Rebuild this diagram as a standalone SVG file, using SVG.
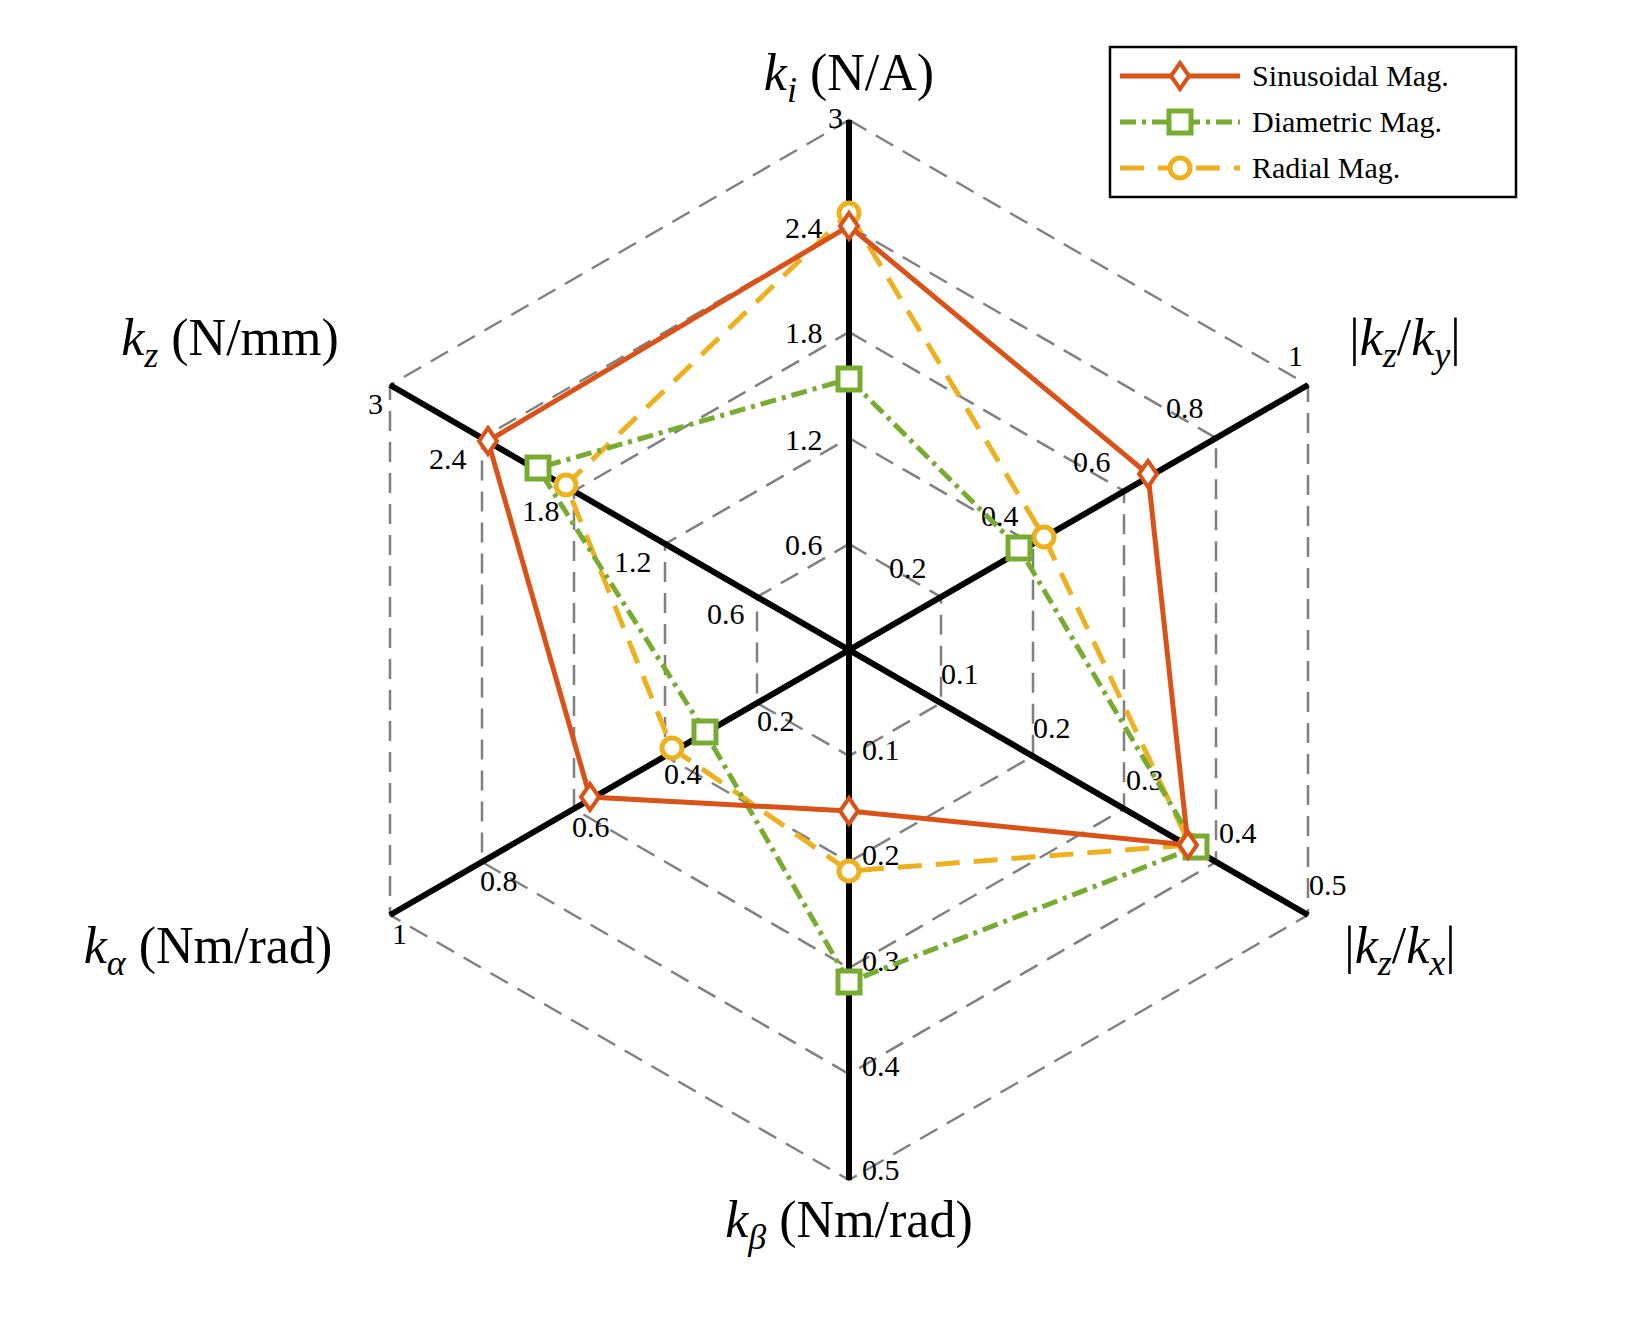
<svg xmlns="http://www.w3.org/2000/svg" width="1627" height="1338" viewBox="0 0 1627 1338">
<style>
.ring{fill:none;stroke:#808080;stroke-width:2.5;stroke-dasharray:20 11}
.ax{stroke:#000;stroke-width:6}
.t{font-family:"Liberation Serif",serif;font-size:30px;fill:#000}
.lab{font-family:"Liberation Serif",serif;font-size:52px;fill:#000}
.s{fill:none;stroke:#D95319;stroke-width:5}
.d{fill:none;stroke:#77AC30;stroke-width:5;stroke-dasharray:16 6 4 6}
.r{fill:none;stroke:#EDB120;stroke-width:5;stroke-dasharray:24 14}
.ms{fill:#fff;stroke:#D95319;stroke-width:4}
.md{fill:#fff;stroke:#77AC30;stroke-width:5}
.mr{fill:#fff;stroke:#EDB120;stroke-width:5}
</style>
<rect width="1627" height="1338" fill="#fff"/>
<g id="grid">
<polygon class="ring" points="849,544 941,597 941,703 849,756 757,703 757,597"/>
<polygon class="ring" points="849,438 1033,544 1033,756 849,862 665,756 665,544"/>
<polygon class="ring" points="849,332 1124,491 1124,809 849,968 574,809 574,491"/>
<polygon class="ring" points="849,226 1216,438 1216,862 849,1074 482,862 482,438"/>
<polygon class="ring" points="849,120 1308,385 1308,915 849,1180 390,915 390,385"/>
</g>
<g id="axes">
<line class="ax" x1="849" y1="120" x2="849" y2="1180"/>
<line class="ax" x1="390" y1="385" x2="1308" y2="915"/>
<line class="ax" x1="390" y1="915" x2="1308" y2="385"/>
</g>
<g id="ticks" class="t">
<text x="828" y="128">3</text><text x="785" y="238">2.4</text><text x="785" y="343">1.8</text><text x="785" y="450">1.2</text><text x="785" y="555">0.6</text>
<text x="889" y="578">0.2</text><text x="981" y="526">0.4</text><text x="1073" y="472">0.6</text><text x="1166" y="418">0.8</text><text x="1288" y="366">1</text>
<text x="941" y="684">0.1</text><text x="1033" y="738">0.2</text><text x="1126" y="790">0.3</text><text x="1219" y="843">0.4</text><text x="1309" y="895">0.5</text>
<text x="862" y="760">0.1</text><text x="862" y="865">0.2</text><text x="862" y="971">0.3</text><text x="862" y="1076">0.4</text><text x="862" y="1180">0.5</text>
<text x="757" y="731">0.2</text><text x="664" y="784">0.4</text><text x="572" y="837">0.6</text><text x="480" y="891">0.8</text><text x="392" y="944">1</text>
<text x="707" y="624">0.6</text><text x="614" y="572">1.2</text><text x="522" y="521">1.8</text><text x="429" y="469">2.4</text><text x="368" y="414">3</text>
</g>
<g id="labels" class="lab">
<text x="849" y="90" text-anchor="middle"><tspan font-style="italic">k</tspan><tspan font-style="italic" font-size="36" dy="12">i</tspan><tspan dy="-12">  (N/A)</tspan></text>
<text x="230" y="355" text-anchor="middle"><tspan font-style="italic">k</tspan><tspan font-style="italic" font-size="36" dy="12">z</tspan><tspan dy="-12">  (N/mm)</tspan></text>
<text x="1405" y="355" text-anchor="middle">|<tspan font-style="italic">k</tspan><tspan font-style="italic" font-size="36" dy="12">z</tspan><tspan dy="-12">/</tspan><tspan font-style="italic">k</tspan><tspan font-style="italic" font-size="36" dy="12">y</tspan><tspan dy="-12">|</tspan></text>
<text x="1400" y="963" text-anchor="middle">|<tspan font-style="italic">k</tspan><tspan font-style="italic" font-size="36" dy="12">z</tspan><tspan dy="-12">/</tspan><tspan font-style="italic">k</tspan><tspan font-style="italic" font-size="36" dy="12">x</tspan><tspan dy="-12">|</tspan></text>
<text x="208" y="963" text-anchor="middle"><tspan font-style="italic">k</tspan><tspan font-style="italic" font-size="36" dy="12">α</tspan><tspan dy="-12">  (Nm/rad)</tspan></text>
<text x="849" y="1237" text-anchor="middle"><tspan font-style="italic">k</tspan><tspan font-style="italic" font-size="36" dy="12">β</tspan><tspan dy="-12">  (Nm/rad)</tspan></text>
</g>
<g id="series-radial">
<polygon class="r" points="849,213 1044,537 1190,845 849,871 672,748 566,485"/>
<g class="mr"><circle cx="849" cy="213" r="10"/><circle cx="1044" cy="537" r="10"/><circle cx="1190" cy="845" r="10"/><circle cx="849" cy="871" r="10"/><circle cx="672" cy="748" r="10"/><circle cx="566" cy="485" r="10"/></g>
</g>
<g id="series-diametric">
<polygon class="d" points="849,379 1019,548 1196,847 849,982 705,732 538,468"/>
<g class="md"><rect x="838" y="368" width="22" height="22"/><rect x="1008" y="537" width="22" height="22"/><rect x="1185" y="836" width="22" height="22"/><rect x="838" y="971" width="22" height="22"/><rect x="694" y="721" width="22" height="22"/><rect x="527" y="457" width="22" height="22"/></g>
</g>
<g id="series-sinusoidal">
<polygon class="s" points="849,226 1148,474 1188,845 849,811 590,797 488,441"/>
<g class="ms"><path d="M849,213 l9,13 -9,13 -9,-13z"/><path d="M1148,461 l9,13 -9,13 -9,-13z"/><path d="M1188,832 l9,13 -9,13 -9,-13z"/><path d="M849,798 l9,13 -9,13 -9,-13z"/><path d="M590,784 l9,13 -9,13 -9,-13z"/><path d="M488,428 l9,13 -9,13 -9,-13z"/></g>
</g>
<g id="legend">
<rect x="1110" y="47" width="406" height="150" fill="#fff" stroke="#000" stroke-width="2.5"/>
<line class="s" x1="1120" y1="76" x2="1240" y2="76"/><path class="ms" d="M1180,63 l9,13 -9,13 -9,-13z"/>
<line class="d" x1="1120" y1="122" x2="1240" y2="122"/><rect class="md" x="1169" y="111" width="22" height="22"/>
<line class="r" x1="1120" y1="168" x2="1240" y2="168"/><circle class="mr" cx="1180" cy="168" r="10"/>
<text class="t" x="1252" y="86">Sinusoidal Mag.</text>
<text class="t" x="1252" y="132">Diametric Mag.</text>
<text class="t" x="1252" y="178">Radial Mag.</text>
</g>
</svg>
